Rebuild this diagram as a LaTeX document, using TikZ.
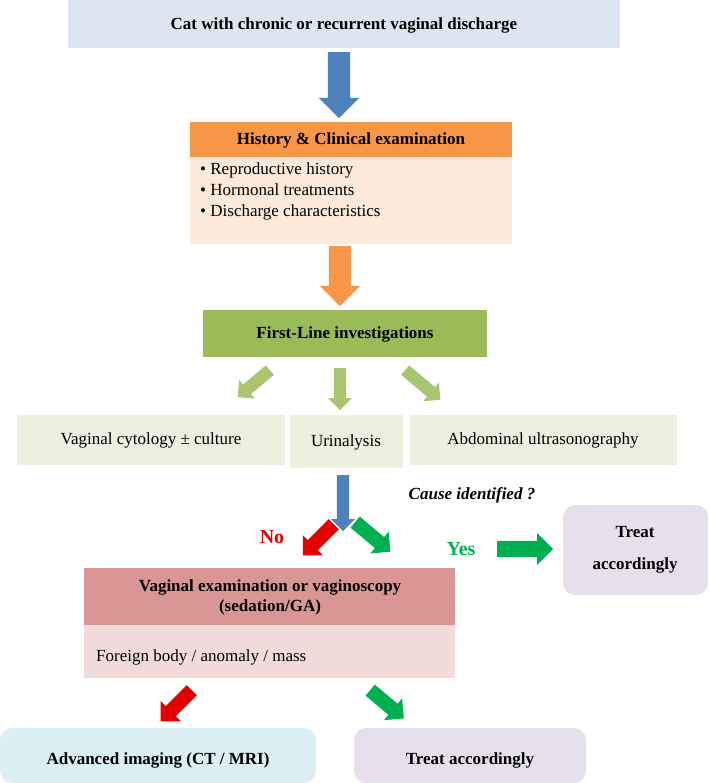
\documentclass[tikz,border=0pt]{standalone}
\usepackage{fontspec}
\setmainfont{Liberation Serif}
\usetikzlibrary{shapes.arrows}
\definecolor{topblue}{HTML}{DCE6F2}
\definecolor{arrblue}{HTML}{4F81BD}
\definecolor{orhead}{HTML}{F79646}
\definecolor{orbody}{HTML}{FDEADA}
\definecolor{grhead}{HTML}{9BBB59}
\definecolor{grlight}{HTML}{EBF1DE}
\definecolor{grarrow}{HTML}{00B050}
\definecolor{rdhead}{HTML}{D99694}
\definecolor{rdbody}{HTML}{F2DCDB}
\definecolor{lilac}{HTML}{E6E0EC}
\definecolor{skyblue}{HTML}{DBEEF4}
\tikzset{
  box/.style={draw=none, inner sep=0pt, font=\fontsize{17}{20}\selectfont},
  blk/.style 2 args={single arrow, draw=none, inner sep=#1, single arrow head extend=#2, anchor=tail}
}
\begin{document}
\begin{tikzpicture}[x=1pt,y=-1pt]
	    \useasboundingbox (0,0) rectangle (709,783);
	    % top box
	    \fill[topblue] (68,0) rectangle (620,48);
	    \node[box] (cat) at (344,25) {\bfseries Cat with chronic or recurrent vaginal discharge};
	    \node[blk={11pt}{9pt}, fill=arrblue, minimum height=66pt, rotate=-90] (a1) at (339,52) {};
	    
	    % history
	    \fill[orhead] (190,122) rectangle (512,157);
	    \fill[orbody] (190,157) rectangle (512,244);
	    \node[box] (hist) at (351,140) {\bfseries History \& Clinical examination};
	    \node[box, anchor=north west, align=left] (histlist) at (200,163)
	    {• Reproductive history\\[1pt] • Hormonal treatments\\[1pt] • Discharge characteristics};
	    \node[blk={11pt}{9pt}, fill=orhead, minimum height=60pt, rotate=-90] (a2) at (340,246) {};
	    
	    % first line
	    \fill[grhead] (203,310) rectangle (487,357);
	    \node[box] (first) at (345,334) {\bfseries First-Line investigations};
	    \node[blk={6pt}{6pt}, fill=grhead!85, minimum height=42pt, rotate=-140] (a3) at (270,370) {};
	    \node[blk={6pt}{6pt}, fill=grhead!85, minimum height=42pt, rotate=-90] (a4) at (340,368) {};
	    \node[blk={6pt}{6pt}, fill=grhead!85, minimum height=46pt, rotate=-40] (a5) at (405,370) {};
	    
	    % investigations
	    \fill[grlight] (17,415) rectangle (285,465);
	    \fill[grlight] (290,415) rectangle (403,468);
	    \fill[grlight] (410,415) rectangle (677,465);
	    \node[box] (cyto) at (151,440) {Vaginal cytology ± culture};
	    \node[box] (urin) at (346,442) {Urinalysis};
	    \node[box] (abdo) at (543,440) {Abdominal ultrasonography};
	    
	    % decision
	    \node[blk={6pt}{6pt}, fill=arrblue, minimum height=56pt, rotate=-90] (a6) at (343,475) {};
	    \node[box] (cause) at (472,495) {\bfseries\itshape Cause identified ?};
	    \node[blk={7pt}{7pt}, fill=red!90!black, minimum height=44pt, rotate=-135] (a7) at (334,524) {};
	    \node[blk={7pt}{7pt}, fill=grarrow, minimum height=46pt, rotate=-40] (a8) at (355,522) {};
	    \node[box, text=red!90!black, font=\fontsize{20}{24}\selectfont] (no) at (272,537) {\bfseries No};
	    \node[box, text=grarrow, font=\fontsize{20}{24}\selectfont] (yes) at (461,549) {\bfseries Yes};
	    \fill[lilac, rounded corners=12pt] (563,505) rectangle (708,595);
	    \node[blk={8pt}{8pt}, fill=grarrow, minimum height=56pt] (a9) at (497,549) {};
	    \node[box, align=center] (treat1) at (635,550) {\bfseries Treat\\[12pt]\bfseries accordingly};
	    
	    % vaginal examination
	    \fill[rdhead] (84,568) rectangle (455,625);
	    \fill[rdbody] (84,625) rectangle (455,678);
	    \node[box, align=center] (vag) at (270,597) {\bfseries Vaginal examination or vaginoscopy\\\bfseries(sedation/GA)};
	    \node[box, anchor=west] (foreign) at (96,657) {Foreign body / anomaly / mass};
	    \node[blk={7pt}{7pt}, fill=red!90!black, minimum height=44pt, rotate=-135] (a10) at (192,690) {};
	    \node[blk={7pt}{7pt}, fill=grarrow, minimum height=44pt, rotate=-40] (a11) at (370,690) {};
	    
	    % outcomes
	    \fill[skyblue, rounded corners=12pt] (0,728) rectangle (316,783);
	    \fill[lilac, rounded corners=12pt] (354,728) rectangle (586,783);
	    \node[box] (adv) at (158,760) {\bfseries Advanced imaging (CT / MRI)};
	    \node[box] (treat2) at (470,760) {\bfseries Treat accordingly};
\end{tikzpicture}
\end{document}
